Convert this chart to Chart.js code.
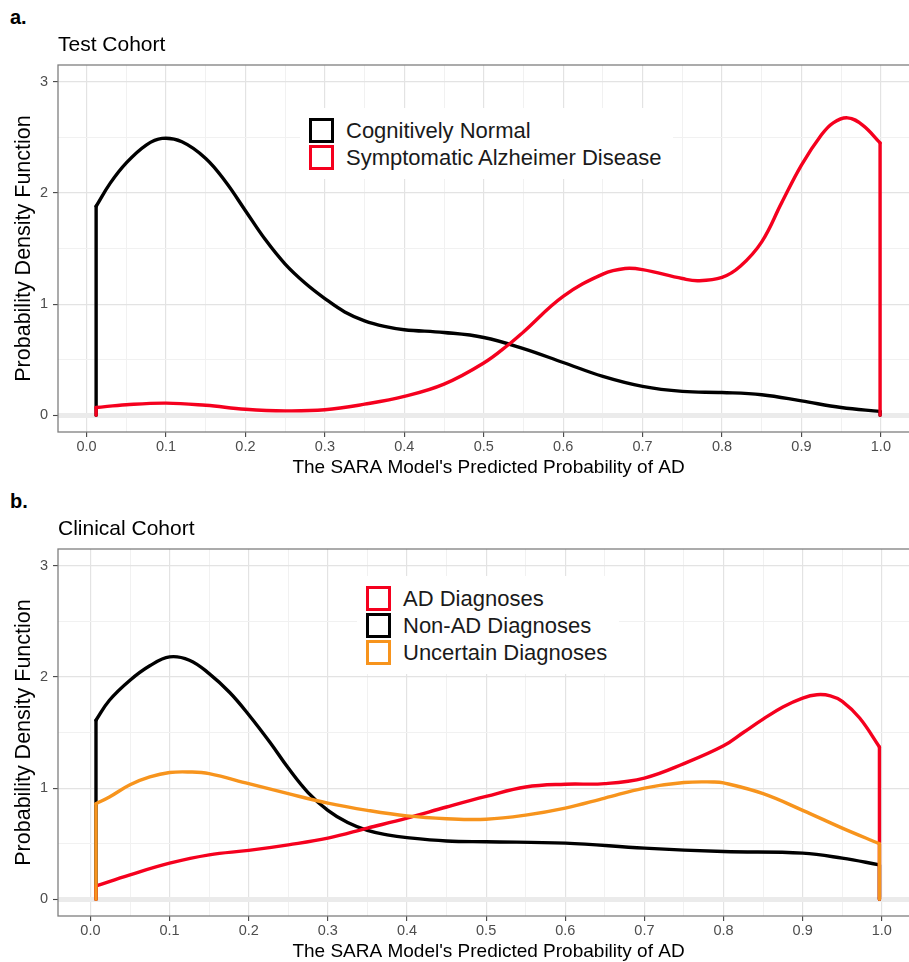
<!DOCTYPE html>
<html>
<head>
<meta charset="utf-8">
<script src="https://cdn.jsdelivr.net/npm/chart.js@4.4.0/dist/chart.umd.min.js"></script>
<style>
  html, body { margin: 0; padding: 0; background: #fff; overflow: hidden; width: 909px; height: 962px; }
  body { position: relative; font-family: "Liberation Sans", Arial, sans-serif; }
  canvas { position: absolute; left: 0; }
  #chartA { top: 0; }
  #chartB { top: 484px; }
  .tag { position: absolute; left: 10px; font-weight: bold; font-size: 20px; line-height: 20px; color: #000; }
  .legend { position: absolute; background: #fff; padding: 9px 12px 8px 9px; }
  .legend .row { display: flex; align-items: center; height: 27px; }
  .legend .key { width: 25px; height: 25px; box-sizing: border-box; border: 3.5px solid; margin-right: 12px; background: #fff; }
  .legend .txt { font-size: 22px; color: #1a1a1a; white-space: nowrap; }
</style>
</head>
<body>
<div class="tag" style="top:7px">a.</div>
<canvas id="chartA" width="925" height="484"></canvas>
<div class="tag" style="top:491px">b.</div>
<canvas id="chartB" width="925" height="484"></canvas>
<div class="legend" id="legendA" style="left:300px; top:108px"></div>
<div class="legend" id="legendB" style="left:357px; top:576px"></div>

<script>
// tick labels (both panels)
const xTickValues = [0, 0.1, 0.2, 0.3, 0.4, 0.5, 0.6, 0.7, 0.8, 0.9, 1.0];
const yTickValues = [0, 1, 2, 3];

// panel a - Test Cohort
const titleA = 'Test Cohort';
const normalLabel = 'Cognitively Normal';
const normalX = [0.012, 0.03, 0.05, 0.075, 0.095, 0.12, 0.15, 0.175, 0.20, 0.225, 0.25, 0.275, 0.30, 0.325, 0.35, 0.375, 0.40, 0.45, 0.50, 0.55, 0.60, 0.65, 0.70, 0.75, 0.80, 0.85, 0.90, 0.95, 0.999];
const normalY = [1.88, 2.09, 2.27, 2.43, 2.49, 2.46, 2.31, 2.10, 1.84, 1.58, 1.36, 1.19, 1.05, 0.93, 0.85, 0.80, 0.77, 0.745, 0.70, 0.60, 0.475, 0.35, 0.26, 0.215, 0.205, 0.185, 0.13, 0.07, 0.035];
const sadLabel = 'Symptomatic Alzheimer Disease';
const sadX = [0.012, 0.05, 0.10, 0.15, 0.20, 0.25, 0.30, 0.35, 0.40, 0.45, 0.50, 0.533, 0.55, 0.60, 0.65, 0.678, 0.70, 0.75, 0.77, 0.80, 0.823, 0.85, 0.875, 0.90, 0.925, 0.94, 0.958, 0.977, 0.999];
const sadY = [0.07, 0.095, 0.11, 0.09, 0.055, 0.04, 0.05, 0.10, 0.17, 0.28, 0.47, 0.646, 0.75, 1.07, 1.27, 1.32, 1.31, 1.23, 1.21, 1.24, 1.34, 1.56, 1.91, 2.25, 2.52, 2.63, 2.675, 2.61, 2.45];

// panel b - Clinical Cohort
const titleB = 'Clinical Cohort';
const adLabel = 'AD Diagnoses';
const adX = [0.007, 0.05, 0.10, 0.15, 0.20, 0.25, 0.30, 0.35, 0.40, 0.45, 0.50, 0.55, 0.60, 0.65, 0.70, 0.75, 0.80, 0.825, 0.85, 0.875, 0.90, 0.918, 0.935, 0.95, 0.972, 0.997];
const adY = [0.12, 0.22, 0.325, 0.40, 0.44, 0.49, 0.55, 0.64, 0.73, 0.83, 0.925, 1.01, 1.035, 1.04, 1.09, 1.22, 1.38, 1.50, 1.62, 1.73, 1.81, 1.84, 1.83, 1.78, 1.63, 1.37];
const nonAdLabel = 'Non-AD Diagnoses';
const nonAdX = [0.007, 0.024, 0.05, 0.075, 0.10, 0.125, 0.15, 0.176, 0.20, 0.227, 0.25, 0.275, 0.30, 0.325, 0.35, 0.375, 0.40, 0.45, 0.50, 0.60, 0.70, 0.80, 0.90, 0.95, 0.997];
const nonAdY = [1.61, 1.79, 1.97, 2.10, 2.18, 2.15, 2.03, 1.86, 1.66, 1.41, 1.18, 0.96, 0.80, 0.69, 0.62, 0.58, 0.555, 0.525, 0.517, 0.505, 0.46, 0.43, 0.415, 0.37, 0.31];
const uncertainLabel = 'Uncertain Diagnoses';
const uncertainX = [0.007, 0.024, 0.05, 0.075, 0.10, 0.125, 0.15, 0.20, 0.25, 0.30, 0.35, 0.40, 0.45, 0.50, 0.55, 0.60, 0.65, 0.70, 0.75, 0.787, 0.80, 0.85, 0.90, 0.95, 0.997];
const uncertainY = [0.86, 0.92, 1.03, 1.10, 1.14, 1.145, 1.13, 1.04, 0.95, 0.865, 0.80, 0.75, 0.725, 0.72, 0.757, 0.82, 0.91, 1.00, 1.05, 1.055, 1.047, 0.95, 0.80, 0.64, 0.50];

const RED = '#f5001e';
const BLACK = '#000000';
const ORANGE = '#f7941d';

const xAxisTitle = "The SARA Model's Predicted Probability of AD";
const yAxisTitle = 'Probability Density Function';

Chart.defaults.font.family = '"Liberation Sans", Arial, sans-serif';

const near = (a, b) => Math.abs(a - b) < 1e-6;
const isMajorX = v => xTickValues.some(t => near(t, v));
const isMajorY = v => yTickValues.some(t => near(t, v));

// major + minor grid positions (minor halfway between ticks, like ggplot)
const gridX = [];
xTickValues.forEach((t, i) => {
  gridX.push(t);
  if (i < xTickValues.length - 1) gridX.push((t + xTickValues[i + 1]) / 2);
});
const gridY = [];
yTickValues.forEach((t, i) => {
  gridY.push(t);
  if (i < yTickValues.length - 1) gridY.push((t + yTickValues[i + 1]) / 2);
});

// the curve plus the two vertical sides that geom_density draws at the data range ends
function densityDatasets(label, xs, ys, color) {
  const pts = xs.map((x, i) => ({ x: x, y: ys[i] }));
  const common = { borderColor: color, borderWidth: 3.4, pointRadius: 0, fill: false, borderCapStyle: 'round', borderJoinStyle: 'round' };
  return [
    { ...common, label: label, data: pts, tension: 0.4 },
    { ...common, label: label + ' left', data: [{ x: xs[0], y: 0 }, pts[0]], tension: 0 },
    { ...common, label: label + ' right', data: [pts[pts.length - 1], { x: xs[xs.length - 1], y: 0 }], tension: 0 },
  ];
}

const panelBorder = {
  id: 'panelBorder',
  afterDatasetsDraw(chart) {
    const { ctx, chartArea: a } = chart;
    ctx.save();
    ctx.strokeStyle = '#7f7f7f';
    ctx.lineWidth = 1.3;
    ctx.strokeRect(a.left, a.top, a.right - a.left, a.bottom - a.top);
    ctx.restore();
  }
};

function makeOptions(title, xMin, xMax) {
  return {
    responsive: false,
    animation: false,
    layout: { padding: { top: 33, right: 6, left: 0, bottom: 0 } },
    plugins: {
      legend: { display: false },
      tooltip: { enabled: false },
      title: {
        display: true, text: title, align: 'start', fullSize: false,
        color: '#000', font: { size: 21, weight: 'normal', lineHeight: 1.143 }, padding: { top: 0, bottom: 8 }
      }
    },
    scales: {
      x: {
        type: 'linear', min: xMin, max: xMax,
        afterBuildTicks: s => { s.ticks = gridX.map(v => ({ value: v })); },
        afterFit: s => { s.height = 52; },
        ticks: {
          autoSkip: false, maxRotation: 0, padding: 1, color: '#4d4d4d', font: { size: 14.5 },
          callback: v => isMajorX(v) ? v.toFixed(1) : ''
        },
        grid: {
          color: c => isMajorX(c.tick.value) ? '#e3e3e3' : '#f1f1f1',
          lineWidth: c => isMajorX(c.tick.value) ? 1.2 : 1,
          tickLength: 5,
          tickWidth: 1.1,
          tickColor: c => isMajorX(c.tick.value) ? '#444' : 'rgba(0,0,0,0)'
        },
        border: { display: false },
        title: { display: true, text: xAxisTitle, color: '#000', font: { size: 19 }, padding: { top: 0, bottom: 5 } }
      },
      y: {
        type: 'linear', min: -0.15, max: 3.15,
        afterBuildTicks: s => { s.ticks = gridY.map(v => ({ value: v })); },
        afterFit: s => { s.width = 58; },
        ticks: {
          autoSkip: false, padding: 5, color: '#4d4d4d', font: { size: 14.5 },
          callback: v => isMajorY(v) ? String(v) : ''
        },
        grid: {
          color: c => near(c.tick.value, 0) ? '#ebebeb' : (isMajorY(c.tick.value) ? '#e3e3e3' : '#f1f1f1'),
          lineWidth: c => near(c.tick.value, 0) ? 5 : (isMajorY(c.tick.value) ? 1.2 : 1),
          tickLength: 5,
          tickWidth: 1.1,
          tickColor: c => isMajorY(c.tick.value) ? '#444' : 'rgba(0,0,0,0)'
        },
        border: { display: false },
        title: { display: true, text: yAxisTitle, color: '#000', font: { size: 21.5, lineHeight: 1.1 }, padding: { top: 12, bottom: 0 } }
      }
    }
  };
}

// first dataset is drawn on top
new Chart(document.getElementById('chartA'), {
  type: 'line',
  data: {
    datasets: [
      ...densityDatasets(sadLabel, sadX, sadY, RED),
      ...densityDatasets(normalLabel, normalX, normalY, BLACK),
    ]
  },
  options: makeOptions(titleA, -0.036, 1.048),
  plugins: [panelBorder]
});

new Chart(document.getElementById('chartB'), {
  type: 'line',
  data: {
    datasets: [
      ...densityDatasets(uncertainLabel, uncertainX, uncertainY, ORANGE),
      ...densityDatasets(adLabel, adX, adY, RED),
      ...densityDatasets(nonAdLabel, nonAdX, nonAdY, BLACK),
    ]
  },
  options: makeOptions(titleB, -0.041, 1.047),
  plugins: [panelBorder]
});

function fillLegend(id, items) {
  const box = document.getElementById(id);
  items.forEach(it => {
    const row = document.createElement('div');
    row.className = 'row';
    const key = document.createElement('span');
    key.className = 'key';
    key.style.borderColor = it.color;
    const txt = document.createElement('span');
    txt.className = 'txt';
    txt.textContent = it.label;
    row.appendChild(key);
    row.appendChild(txt);
    box.appendChild(row);
  });
}

fillLegend('legendA', [
  { label: normalLabel, color: BLACK },
  { label: sadLabel, color: RED },
]);
fillLegend('legendB', [
  { label: adLabel, color: RED },
  { label: nonAdLabel, color: BLACK },
  { label: uncertainLabel, color: ORANGE },
]);
</script>
</body>
</html>
